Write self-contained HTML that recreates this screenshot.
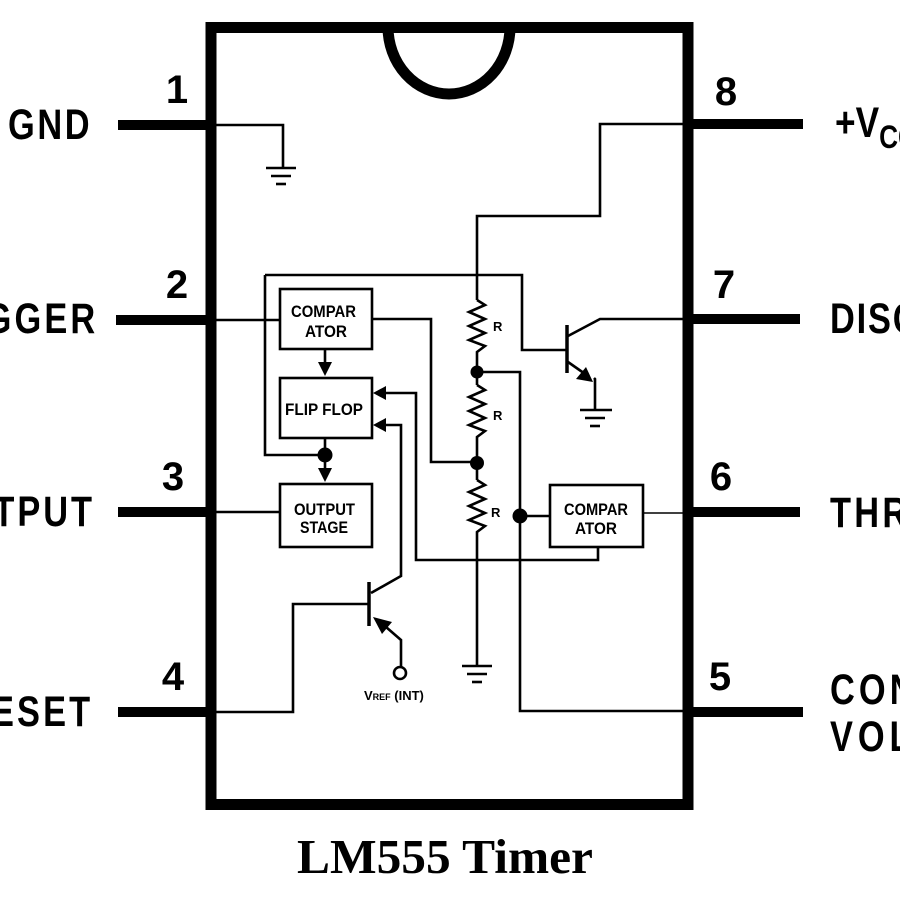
<!DOCTYPE html>
<html><head><meta charset="utf-8"><style>
html,body{margin:0;padding:0;background:#fff;}
svg{display:block;}
.pin{font-family:"Liberation Sans",sans-serif;font-weight:bold;font-size:43px;fill:#000;}
.num{font-family:"Liberation Sans",sans-serif;font-weight:bold;font-size:40px;fill:#000;}
.box{font-family:"Liberation Sans",sans-serif;font-weight:bold;font-size:17px;fill:#000;}
.r{font-family:"Liberation Sans",sans-serif;font-weight:bold;font-size:13px;fill:#000;}
</style></head><body>
<svg width="900" height="900" viewBox="0 0 900 900" xmlns="http://www.w3.org/2000/svg">
<rect width="900" height="900" fill="#fff"/>
<!-- chip body -->
<rect x="211" y="27.5" width="477" height="777" fill="none" stroke="#000" stroke-width="11"/>
<path d="M 388 27 A 61 67 0 0 0 510 27" fill="none" stroke="#000" stroke-width="11"/>
<!-- pins -->
<g stroke="#000" stroke-width="10" stroke-linecap="butt">
<line x1="118" y1="125" x2="211" y2="125"/>
<line x1="116" y1="320" x2="211" y2="320"/>
<line x1="118" y1="512" x2="211" y2="512"/>
<line x1="118" y1="712" x2="211" y2="712"/>
<line x1="688" y1="124" x2="803" y2="124"/>
<line x1="688" y1="319" x2="800" y2="319"/>
<line x1="688" y1="512" x2="800" y2="512"/>
<line x1="688" y1="712" x2="803" y2="712"/>
</g>
<!-- pin labels -->
<text class="pin" transform="translate(8,139) scale(0.8,1)" textLength="102" lengthAdjust="spacing">GND</text>
<text class="pin" transform="translate(-80,333) scale(0.8,1)" textLength="219" lengthAdjust="spacing">TRIGGER</text>
<text class="pin" transform="translate(-64,526) scale(0.8,1)" textLength="195" lengthAdjust="spacing">OUTPUT</text>
<text class="pin" transform="translate(-37,726) scale(0.8,1)" textLength="159" lengthAdjust="spacing">RESET</text>
<text class="pin" transform="translate(835,137) scale(0.82,1)">+V<tspan font-size="32" dy="11">CC</tspan></text>
<text class="pin" transform="translate(830,333) scale(0.8,1)" textLength="276" lengthAdjust="spacing">DISCHARGE</text>
<text class="pin" transform="translate(830,527) scale(0.8,1)" textLength="300" lengthAdjust="spacing">THRESHOLD</text>
<text class="pin" transform="translate(830,704) scale(0.8,1)" textLength="243" lengthAdjust="spacing">CONTROL</text>
<text class="pin" transform="translate(830,751) scale(0.8,1)" textLength="238" lengthAdjust="spacing">VOLTAGE</text>
<!-- pin numbers -->
<text class="num" x="177" y="103" text-anchor="middle">1</text>
<text class="num" x="177" y="298" text-anchor="middle">2</text>
<text class="num" x="173" y="490" text-anchor="middle">3</text>
<text class="num" x="173" y="690" text-anchor="middle">4</text>
<text class="num" x="726" y="105" text-anchor="middle">8</text>
<text class="num" x="724" y="298" text-anchor="middle">7</text>
<text class="num" x="721" y="490" text-anchor="middle">6</text>
<text class="num" x="720" y="690" text-anchor="middle">5</text>
<!-- internal wiring -->
<g fill="none" stroke="#000" stroke-width="2.6">
<polyline points="211,125 283,125 283,168"/>
<line x1="266" y1="168" x2="296" y2="168"/>
<line x1="271" y1="176" x2="291" y2="176"/>
<line x1="276" y1="184" x2="286" y2="184"/>
<polyline points="688,124 600,124 600,216 477,216 477,300"/>
<polyline points="477,300 485,305 469,312 485,319 469,326 485,333 469,340 485,346 477,352 477,385"/>
<polyline points="477,385 485,390 469,397 485,404 469,411 485,418 469,425 485,431 477,437 477,480"/>
<polyline points="477,480 485,485 469,492 485,499 469,506 485,513 469,520 485,526 477,532 477,665"/>
<line x1="462" y1="666" x2="492" y2="666"/>
<line x1="467" y1="674" x2="487" y2="674"/>
<line x1="472" y1="682" x2="482" y2="682"/>
<polyline points="265,275 522,275 522,350 567,350"/>
<polyline points="265,275 265,455 325,455"/>
<line x1="567" y1="325" x2="567" y2="373" stroke-width="3.5"/>
<polyline points="568,336 600,319 688,319"/>
<polyline points="568,362 588,376"/>
<polyline points="594,378 595,379 595,409"/>
<line x1="580" y1="410" x2="612" y2="410"/>
<line x1="585" y1="418" x2="605" y2="418"/>
<line x1="590" y1="426" x2="600" y2="426"/>
<polyline points="477,372 520,372 520,711 688,711"/>
<line x1="520" y1="516" x2="550" y2="516"/>
<rect x="550" y="485" width="93" height="62"/>
<line x1="643" y1="513" x2="688" y2="513" stroke-width="1.5"/>
<polyline points="598,547 598,560 416,560 416,393 385,393"/>
<rect x="280" y="289" width="92" height="60"/>
<line x1="211" y1="320" x2="280" y2="320"/>
<polyline points="372,319 431,319 431,462 477,462"/>
<line x1="325" y1="349" x2="325" y2="364"/>
<rect x="280" y="378" width="92" height="60"/>
<line x1="325" y1="438" x2="325" y2="470"/>
<rect x="280" y="484" width="92" height="63"/>
<line x1="211" y1="512" x2="280" y2="512"/>
<line x1="369" y1="582" x2="369" y2="626" stroke-width="3.5"/>
<polyline points="211,712 293,712 293,604 369,604"/>
<polyline points="371,593 401,576 401,425 385,425"/>
<polyline points="386,627 401,640 401,667"/>
<circle cx="400" cy="673" r="6"/>
</g>
<g fill="#000">
<circle cx="477" cy="372" r="6.5"/>
<circle cx="477" cy="463" r="7"/>
<circle cx="520" cy="516" r="7.5"/>
<circle cx="325" cy="455" r="7.5"/>
<polygon points="318,362 332,362 325,376"/>
<polygon points="318,468 332,468 325,482"/>
<polygon points="373,393 386,386 386,400"/>
<polygon points="373,425 386,418 386,432"/>
<polygon points="593,382 576,379 586,367"/>
<polygon points="373,617 392,622 382,634"/>
</g>
<!-- box labels -->
<text class="box" x="291" y="317" textLength="65" lengthAdjust="spacingAndGlyphs">COMPAR</text>
<text class="box" x="305" y="337" textLength="42" lengthAdjust="spacingAndGlyphs">ATOR</text>
<text class="box" x="285" y="415" textLength="78" lengthAdjust="spacingAndGlyphs">FLIP FLOP</text>
<text class="box" x="294" y="515" textLength="61" lengthAdjust="spacingAndGlyphs">OUTPUT</text>
<text class="box" x="300" y="533" textLength="48" lengthAdjust="spacingAndGlyphs">STAGE</text>
<text class="box" x="564" y="515" textLength="64" lengthAdjust="spacingAndGlyphs">COMPAR</text>
<text class="box" x="575" y="534" textLength="42" lengthAdjust="spacingAndGlyphs">ATOR</text>
<text class="r" x="493" y="331">R</text>
<text class="r" x="493" y="420">R</text>
<text class="r" x="491" y="517">R</text>
<text class="r" x="364" y="700" font-size="15">V<tspan font-size="9">REF</tspan> (INT)</text>
<!-- title -->
<text x="297" y="873" font-family="'Liberation Serif',serif" font-weight="bold" font-size="49" textLength="296" lengthAdjust="spacingAndGlyphs" fill="#000">LM555 Timer</text>
</svg>
</body></html>
